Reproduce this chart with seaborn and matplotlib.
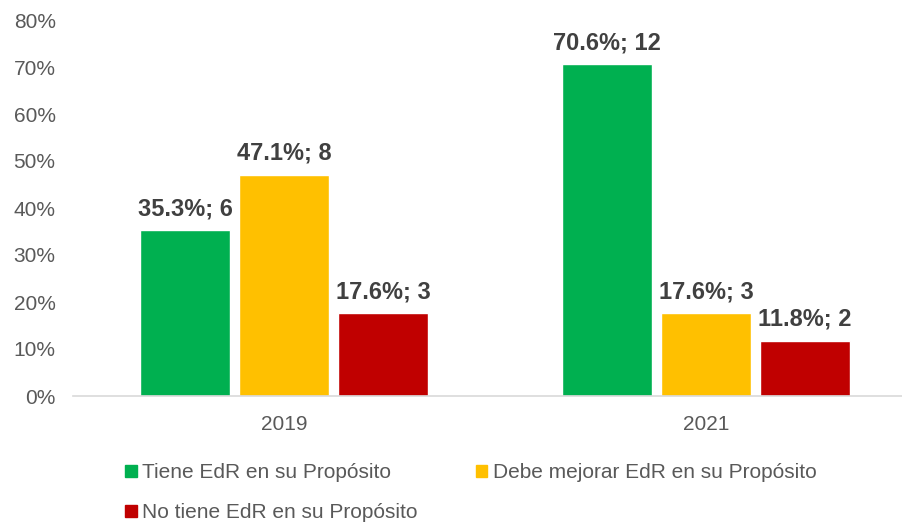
import matplotlib
matplotlib.use("Agg")
import matplotlib.pyplot as plt
import matplotlib.patches as mpatches
import pandas as pd
import seaborn as sns

years = ["2019", "2021"]
series = ["Tiene EdR en su Propósito",
          "Debe mejorar EdR en su Propósito",
          "No tiene EdR en su Propósito"]
pct_2019 = [35.3, 47.1, 17.6]
pct_2021 = [70.6, 17.6, 11.8]
cnt_2019 = [6, 8, 3]
cnt_2021 = [12, 3, 2]
colors = ["#00B050", "#FFC000", "#C00000"]

rows = []
for y, pcts, cnts in [("2019", pct_2019, cnt_2019), ("2021", pct_2021, cnt_2021)]:
    for s, p, c in zip(series, pcts, cnts):
        rows.append({"year": y, "serie": s, "pct": p, "n": c})
df = pd.DataFrame(rows)

sns.set_theme(style="white")
plt.rcParams["font.family"] = ["Liberation Sans", "DejaVu Sans"]

fig = plt.figure(figsize=(9.02, 5.25), dpi=100)
ax = fig.add_axes([73 / 902, 129 / 525, (902 - 73) / 902, 376 / 525])

sns.barplot(data=df, x="year", y="pct", hue="serie", order=years,
            hue_order=series, palette=colors, width=0.704, gap=0.09,
            saturation=1, legend=False, ax=ax)

for cont, s in zip(ax.containers, series):
    sub = df[df["serie"] == s].set_index("year").loc[years]
    labels = [f"{p:.1f}%; {n}" for p, n in zip(sub["pct"], sub["n"])]
    ax.bar_label(cont, labels=labels, padding=7, fontsize=17,
                 fontweight="bold", color="#404040")

ax.set_ylim(0, 80)
ax.set_xlim(-0.5, 1.5 - 15 / 422)
ax.set_yticks(range(0, 81, 10))
ax.set_yticklabels([f"{v}%" for v in range(0, 81, 10)])
ax.tick_params(axis="y", labelsize=15, colors="#595959", length=0, pad=12.5)
ax.tick_params(axis="x", labelsize=15, colors="#595959", length=0, pad=14)
ax.set_xlabel("")
ax.set_ylabel("")
for sp in ["top", "right", "left"]:
    ax.spines[sp].set_visible(False)
ax.spines["bottom"].set_color("#D9D9D9")
ax.spines["bottom"].set_linewidth(1.2)

# matplotlib fills legend column-wise; order so rows read like the reference
handles = [mpatches.Patch(color=colors[i], label=series[i]) for i in (0, 2, 1)]
fig.legend(handles=handles, loc="upper left", ncol=2,
           bbox_to_anchor=(115 / 902, 1 - 453 / 525), frameon=False,
           fontsize=15, labelcolor="#595959", handlelength=0.55,
           handleheight=0.55, handletextpad=0.25, columnspacing=2.8,
           labelspacing=1.0, borderpad=0)

fig.savefig("out.png", dpi=100)
